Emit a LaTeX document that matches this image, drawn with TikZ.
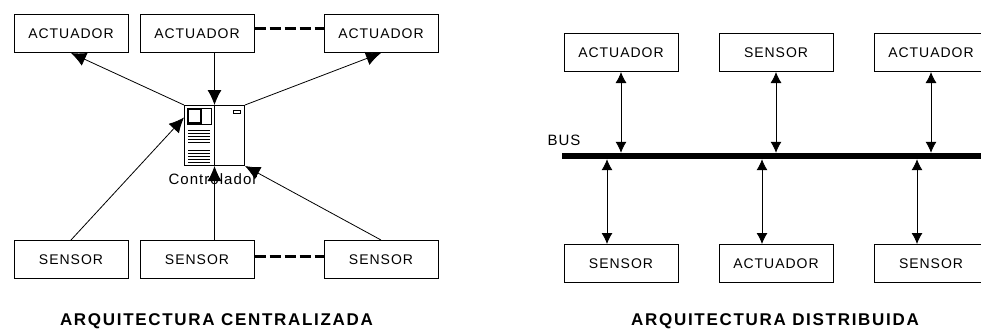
\documentclass[tikz,border=0pt]{standalone}
\usepackage{fontspec}
\setmainfont{Liberation Sans}[LetterSpace=7]
\newfontfamily\titlefont{Liberation Sans}[LetterSpace=10]
\usetikzlibrary{arrows.meta}
\tikzset{
  main/.style={draw,line width=1pt,minimum width=114,minimum height=38,inner sep=0pt,font=\fontsize{14}{16}\selectfont},
  caption/.style={inner sep=0pt,font=\titlefont\fontsize{17}{19}\selectfont\bfseries},
  label/.style={inner sep=0pt,font=\fontsize{14}{16}\selectfont},
  big/.style={-{Latex[length=15pt,width=14pt]},line width=.8pt},
  both/.style={{Latex[length=11pt,width=11pt]}-{Latex[length=11pt,width=11pt]},line width=.8pt},
  link/.style={dashed,line width=2.5pt,dash pattern=on 11pt off 4pt}
}
\begin{document}
\begin{tikzpicture}[x=1pt,y=-1pt]
  \useasboundingbox (0,0) rectangle (981,332);
  \clip (0,0) rectangle (981,332);
  % centralizada
  \node[main](actl) at (71,33.5){ACTUADOR};
  \node[main](actm) at (197,33.5){ACTUADOR};
  \node[main](actr) at (381,33.5){ACTUADOR};
  \node[main](senl) at (71,259.5){SENSOR};
  \node[main](senm) at (197,259.5){SENSOR};
  \node[main](senr) at (381,259.5){SENSOR};
  \node[draw,line width=1pt,minimum size=60,inner sep=0pt](ctrl) at (214.5,135.5){};
  \node[label,font=\fontsize{15}{17}\selectfont](ctrlname) at (213,179){Controlador};
  \draw[line width=1pt] (ctrl.north) -- (ctrl.south);
  \draw[line width=.8pt] (187,108) rectangle (211,124);
  \draw[line width=1.8pt] (188,109) rectangle (201,123);
  \foreach \y in {130,133,136,139,142,150,153,156,159,162}
    \draw[line width=.8pt] (188,\y) -- (210,\y);
  \draw[line width=.7pt] (233,110) rectangle (240,113);
  \draw[big](ctrl.north west) -- (actl.south);
  \draw[big](actm.south -| ctrl.north) -- (ctrl.north);
  \draw[big](ctrl.north east) -- (actr.south);
  \draw[big](senl.north) -- ([yshift=18]ctrl.west);
  \draw[big](senm.north -| ctrl.south) -- (ctrl.south);
  \draw[big](senr.north) -- (ctrl.south east);
  \draw[link]([yshift=5]actm.east) -- ([yshift=5]actr.west);
  \draw[link]([yshift=3]senm.east) -- ([yshift=3]senr.west);
  \node[caption](capl) at (216.5,321.5){ARQUITECTURA CENTRALIZADA};
  % distribuida
  \node[fill,minimum width=419,minimum height=6,inner sep=0pt](bus) at (771.5,156){};
  \node[label,font=\fontsize{15}{17}\selectfont](busname) at (564,140){BUS};
  \node[main](top1) at (621,52.5){ACTUADOR};
  \node[main](top2) at (776,52.5){SENSOR};
  \node[main](top3) at (931,52.5){ACTUADOR};
  \node[main](low1) at (621,263.5){SENSOR};
  \node[main](low2) at (776,263.5){ACTUADOR};
  \node[main](low3) at (931,263.5){SENSOR};
  \foreach \n in {1,2,3}{
    \draw[both](top\n.south) -- (top\n.south |- bus.north);
    \draw[both]([xshift=-14]low\n.north) -- ([xshift=-14]low\n.north |- bus.south);
  }
  \node[caption](capr) at (775,321.5){ARQUITECTURA DISTRIBUIDA};
\end{tikzpicture}
\end{document}
